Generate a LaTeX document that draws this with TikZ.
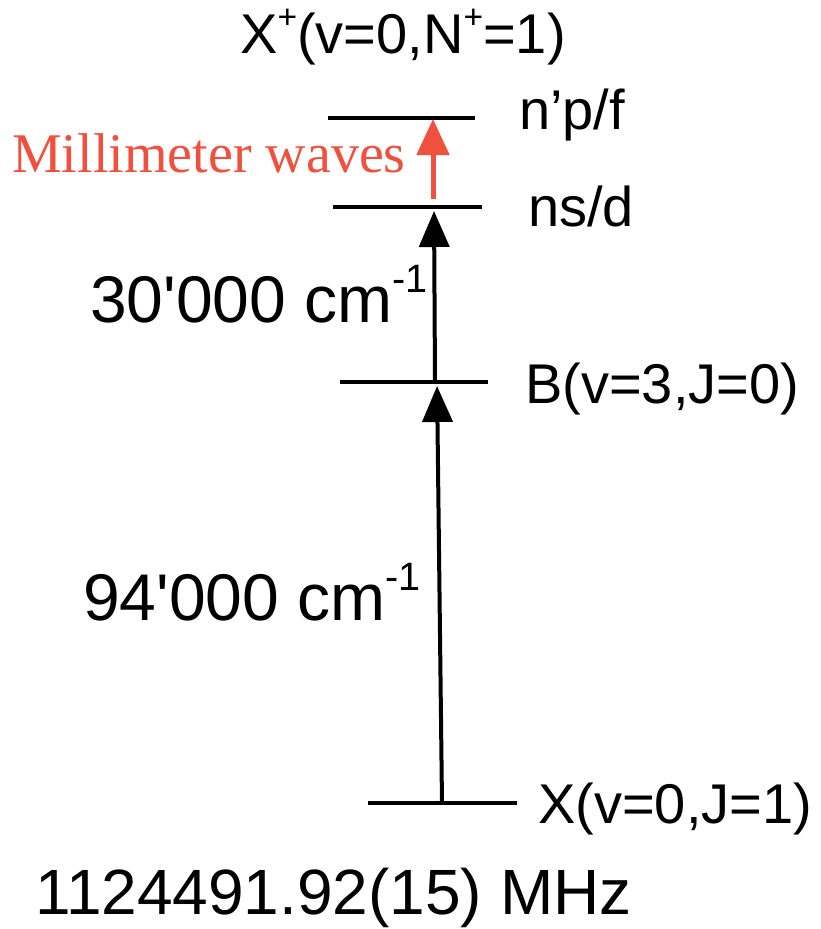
\documentclass[tikz,border=0pt]{standalone}
\usepackage{fontspec}
\setmainfont{Liberation Sans}
\newfontfamily\serifrm{Liberation Serif}
\usepackage{xcolor}
\usepackage{graphicx}
\usetikzlibrary{arrows.meta,positioning,calc}
\definecolor{mmred}{RGB}{240,80,62}
\newcommand{\hisup}[1]{\raisebox{0.44em}{\scalebox{0.6}{#1}}}
\tikzset{
  level/.style={
    fill=black,
    draw=none,
    inner sep=0pt,
    minimum height=4.5pt
  },
  statelabel/.style={
    anchor=base west,
    inner sep=0pt,
    font=\fontsize{56}{60}\selectfont
  },
  energylabel/.style={
    anchor=base west,
    inner sep=0pt,
    font=\fontsize{66}{70}\selectfont
  },
  excitearrow/.style={-{Triangle[length=36pt,width=30pt]}, line width=4pt, shorten >=4pt},
  mmarrow/.style={-{Triangle[length=36pt,width=32pt]}, line width=5pt, mmred, shorten >=1pt}
}

\begin{document}
\begin{tikzpicture}[x=1pt,y=-1pt]
  \useasboundingbox (0,0) rectangle (821,929);
  % energy levels
  \node[level, minimum width=147pt] (lvNp) at (401.5,118) {};
  \node[level, minimum width=149pt] (lvN) at (407.5,207) {};
  \node[level, minimum width=148pt] (lvB) at (414,382) {};
  \node[level, minimum width=149pt] (lvX) at (442.5,803) {};
  % feet of the transitions
  \coordinate (fX) at (442,803);
  \coordinate (fBlo) at (437,382);
  \coordinate (fBup) at (435,382);
  \coordinate (fN) at (434,207);
  \coordinate (fNr) at (433,199);
  \coordinate (fNp) at (433,118);
  \draw[excitearrow] (fX) -- (fBlo);
  \draw[excitearrow] (fBup) -- (fN);
  \draw[mmarrow] (fNr) -- (fNp);
  % labels
  \node[statelabel] (tXp) at (240,53) {X\hisup{+}(v=0,N\hisup{+}=1)};
  \node[statelabel] (tNp) at (519,129) {n’p/f};
  \node[statelabel] (tN) at (528,226) {ns/d};
  \node[statelabel] (tB) at (525,403) {B(v=3,J=0)};
  \node[statelabel] (tX) at (538,823) {X(v=0,J=1)};
  \node[energylabel] (tE1) at (90,322) {30\textquotesingle 000 cm\hisup{-1}};
  \node[energylabel] (tE2) at (83,620) {94\textquotesingle 000 cm\hisup{-1}};
  \node[energylabel, font=\fontsize{64}{66}\selectfont] (tF) at (35,914) {1124491.92(15) MHz};
  \node[anchor=base west, inner sep=0pt, text=mmred,
    font=\serifrm\fontsize{56}{60}\selectfont] (tMM) at (12,172) {Millimeter waves};
\end{tikzpicture}
\end{document}
